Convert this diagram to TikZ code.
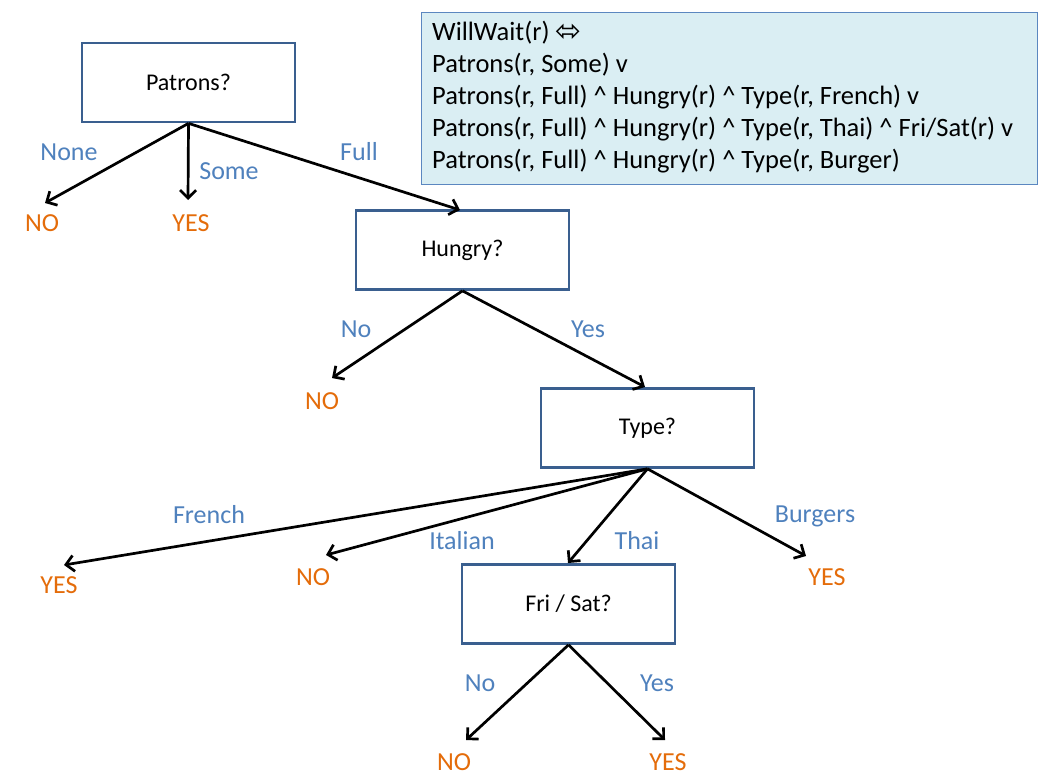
\documentclass[tikz,border=0pt]{standalone}
\usepackage{fontspec}
\setmainfont{Carlito}
\newfontfamily\symfont{DejaVu Sans}
\usetikzlibrary{arrows.meta}
\definecolor{boxblue}{HTML}{3A5F8F}
\definecolor{lblblue}{HTML}{4F81BD}
\definecolor{ansorange}{HTML}{E46C0A}
\definecolor{formfill}{HTML}{DAEEF3}
\definecolor{formline}{HTML}{5B87C0}
\tikzset{
  qbox/.style={draw=boxblue, line width=2.7pt, minimum width=213pt, minimum height=79pt, inner sep=0pt, font=\fontsize{24}{28}\selectfont},
  edgelbl/.style={text=lblblue, font=\fontsize{26}{30}\selectfont, inner sep=0pt},
  answer/.style={text=ansorange, font=\fontsize{26}{30}\selectfont, inner sep=0pt},
  branch/.style={line width=2.7pt, -{Straight Barb[length=8pt, width=16pt, line width=2.7pt]}},
  formula/.style={draw=formline, fill=formfill, line width=1pt, minimum width=616pt, minimum height=172pt, anchor=north west, inner sep=0pt}
}
\begin{document}
\begin{tikzpicture}[x=1pt, y=-1pt]
\useasboundingbox (0,0) rectangle (1048,781);
% formula box
\node[formula] (form) at (421,12) {};
\node[anchor=west, inner sep=0pt, align=left, font=\fontsize{26.5}{32}\selectfont] (formtext) at (432,97)
 {WillWait(r) {\symfont\fontsize{31}{32}\selectfont\raisebox{-1pt}{⬄}}\\
  Patrons(r, Some) v\\
  Patrons(r, Full) \^{} Hungry(r) \^{} Type(r, French) v\\
  Patrons(r, Full) \^{} Hungry(r) \^{} Type(r, Thai) \^{} Fri/Sat(r) v\\
  Patrons(r, Full) \^{} Hungry(r) \^{} Type(r, Burger)};
% decision boxes
\node[qbox] (pat) at (188.5,82.5) {Patrons?};
\node[qbox] (hun) at (462.5,250) {Hungry?};
\node[qbox] (typ) at (647.5,428) {Type?};
\node[qbox] (fri) at (568.5,604) {Fri / Sat?};
% answers
\node[answer] (a1) at (42,223) {NO};
\node[answer] (a2) at (191,223) {YES};
\node[answer] (a3) at (322,401) {NO};
\node[answer] (a4) at (59,585) {YES};
\node[answer] (a5) at (313,577) {NO};
\node[answer] (a6) at (827,577) {YES};
\node[answer] (a7) at (454,762) {NO};
\node[answer] (a8) at (668,762) {YES};
% arrow end coordinates
\coordinate (e1) at (45,203);
\coordinate (e2) at (188,200);
\coordinate (e3) at (460,210);
\coordinate (e4) at (332,378);
\coordinate (e5) at (645,387);
\coordinate (e6) at (64,565);
\coordinate (e7) at (326,555);
\coordinate (e8) at (568,563);
\coordinate (e9) at (806,556);
\coordinate (e10) at (466,740);
\coordinate (e11) at (665,740);
% branches
\draw[branch] (pat.south) -- (e1);
\draw[branch] (pat.south) -- (e2);
\draw[branch] (pat.south) -- (e3);
\draw[branch] (hun.south) -- (e4);
\draw[branch] (hun.south) -- (e5);
\draw[branch] (typ.south) -- (e6);
\draw[branch] (typ.south) -- (e7);
\draw[branch] (typ.south) -- (e8);
\draw[branch] (typ.south) -- (e9);
\draw[branch] (fri.south) -- (e10);
\draw[branch] (fri.south) -- (e11);
% edge labels
\node[edgelbl] (l1) at (69,152) {None};
\node[edgelbl] (l2) at (229,171) {Some};
\node[edgelbl] (l3) at (359,152) {Full};
\node[edgelbl] (l4) at (356,329) {No};
\node[edgelbl] (l5) at (588,329) {Yes};
\node[edgelbl] (l6) at (209,515) {French};
\node[edgelbl] (l7) at (462,541) {Italian};
\node[edgelbl] (l8) at (637,541) {Thai};
\node[edgelbl] (l9) at (815,516) {Burgers};
\node[edgelbl] (l10) at (480,683) {No};
\node[edgelbl] (l11) at (657,683) {Yes};
\end{tikzpicture}
\end{document}
